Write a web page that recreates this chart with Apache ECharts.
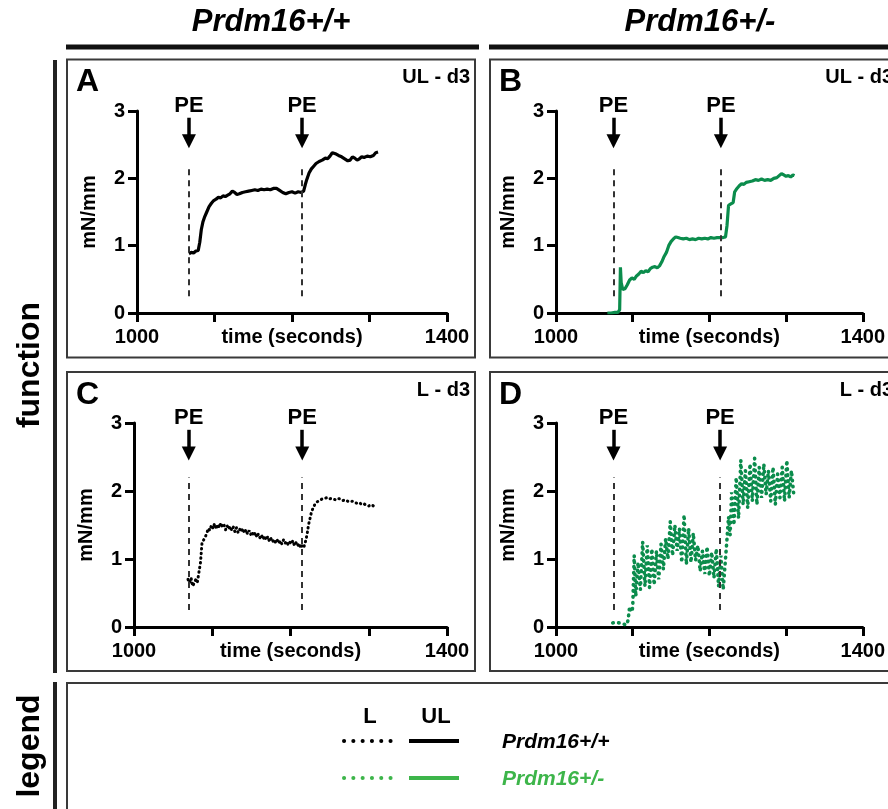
<!DOCTYPE html>
<html>
<head>
<meta charset="utf-8">
<script src="https://cdn.jsdelivr.net/npm/echarts@6/dist/echarts.min.js"></script>
<style>
html, body { margin: 0; padding: 0; background: #fff; }
#main { width: 888px; height: 809px; }
</style>
</head>
<body>
<div id="main"></div>
<script>
var FONT = '"Liberation Sans", Arial, Helvetica, sans-serif';
var GREEN = '#0b8c4c';
var LEGEND_GREEN = '#3db54a';

// tick labels shown on x axis
var xTickLabels = [1000, 1400];

// PE addition times (s) per panel
var peA = [1067, 1213];
var peB = [1075, 1215];
var peC = [1070, 1215];
var peD = [1075, 1214];

// A: UL - d3, Prdm16+/+   [time, mN/mm]
var ulWildType = [
  [1067,0.88],[1070,0.90],[1073,0.89],[1076,0.92],[1079,0.93],[1081,1.05],[1083,1.24],[1085,1.35],
  [1087,1.42],[1090,1.50],[1093,1.58],[1096,1.63],[1099,1.67],[1102,1.69],[1105,1.72],[1108,1.71],
  [1111,1.74],[1114,1.73],[1117,1.75],[1120,1.77],[1123,1.81],[1126,1.79],[1129,1.76],[1132,1.77],
  [1136,1.79],[1140,1.80],[1144,1.81],[1148,1.82],[1152,1.83],[1156,1.82],[1160,1.84],[1164,1.83],
  [1168,1.84],[1172,1.83],[1176,1.85],[1180,1.85],[1184,1.82],[1188,1.79],[1192,1.77],[1196,1.79],
  [1200,1.80],[1204,1.78],[1208,1.80],[1212,1.79],[1215,1.81],[1217,1.90],[1219,1.98],[1222,2.08],
  [1225,2.14],[1228,2.18],[1231,2.22],[1235,2.25],[1239,2.27],[1243,2.30],[1246,2.29],[1249,2.33],
  [1252,2.38],[1254,2.40],[1257,2.36],[1260,2.34],[1264,2.32],[1268,2.29],[1272,2.26],[1275,2.27],
  [1278,2.32],[1281,2.30],[1284,2.27],[1287,2.29],[1290,2.32],[1293,2.31],[1297,2.33],[1301,2.32],
  [1305,2.34],[1308,2.38],[1311,2.39]
];

// B: UL - d3, Prdm16+/-
var ulHet = [
  [1067,0.00],[1072,0.00],[1077,0.01],[1081,0.01],[1083,0.05],[1084,0.68],[1085,0.45],[1087,0.35],
  [1090,0.36],[1093,0.42],[1096,0.49],[1099,0.52],[1102,0.50],[1105,0.55],[1108,0.58],[1111,0.62],
  [1114,0.60],[1117,0.63],[1120,0.61],[1123,0.66],[1126,0.68],[1129,0.69],[1132,0.67],[1135,0.70],
  [1138,0.76],[1141,0.84],[1144,0.90],[1147,1.00],[1150,1.06],[1153,1.10],[1156,1.13],[1159,1.12],
  [1162,1.11],[1166,1.10],[1170,1.11],[1174,1.09],[1178,1.10],[1182,1.09],[1186,1.11],[1190,1.10],
  [1194,1.11],[1198,1.10],[1202,1.12],[1206,1.11],[1210,1.12],[1214,1.12],[1218,1.12],[1221,1.13],
  [1223,1.30],[1225,1.60],[1228,1.62],[1231,1.64],[1233,1.80],[1236,1.85],[1239,1.89],[1242,1.92],
  [1245,1.91],[1248,1.94],[1252,1.95],[1256,1.96],[1260,1.98],[1264,1.97],[1268,1.99],[1272,1.97],
  [1276,1.98],[1280,1.97],[1284,2.00],[1288,2.01],[1291,2.04],[1294,2.07],[1297,2.05],[1300,2.03],
  [1303,2.04],[1306,2.02],[1309,2.05],[1311,2.04]
];

// C: L - d3, Prdm16+/+
var lWildType = [
  [1069,0.70],[1071,0.65],[1073,0.72],[1075,0.60],[1077,0.62],[1079,0.70],[1081,0.66],[1083,0.68],
  [1085,0.95],[1087,1.25],[1089,1.28],[1091,1.32],[1093,1.38],[1095,1.45],[1097,1.42],[1099,1.50],
  [1101,1.45],[1103,1.52],[1105,1.44],[1107,1.51],[1109,1.46],[1111,1.53],[1113,1.47],[1115,1.50],
  [1117,1.43],[1119,1.49],[1121,1.44],[1123,1.48],[1125,1.42],[1127,1.47],[1129,1.40],[1131,1.46],
  [1133,1.39],[1135,1.44],[1137,1.40],[1139,1.45],[1141,1.38],[1143,1.43],[1145,1.37],[1147,1.42],
  [1149,1.36],[1151,1.40],[1153,1.34],[1155,1.39],[1157,1.32],[1159,1.37],[1161,1.31],[1163,1.35],
  [1165,1.29],[1167,1.34],[1169,1.28],[1171,1.33],[1173,1.26],[1175,1.30],[1177,1.25],[1179,1.29],
  [1181,1.24],[1183,1.28],[1185,1.23],[1187,1.27],[1189,1.22],[1191,1.28],[1193,1.23],[1195,1.26],
  [1197,1.21],[1199,1.25],[1201,1.22],[1203,1.27],[1205,1.20],[1207,1.24],[1209,1.19],[1211,1.23],
  [1213,1.16],[1215,1.20],[1217,1.17],[1219,1.25],[1221,1.35],[1223,1.50],[1225,1.60],[1227,1.70],
  [1229,1.75],[1231,1.80],[1234,1.84],[1237,1.86],[1240,1.88],[1243,1.89],[1246,1.90],[1249,1.88],
  [1252,1.89],[1255,1.88],[1258,1.87],[1261,1.89],[1264,1.88],[1267,1.86],[1270,1.87],[1273,1.85],
  [1276,1.84],[1279,1.85],[1282,1.83],[1285,1.82],[1288,1.83],[1291,1.80],[1294,1.81],[1297,1.79],
  [1300,1.78],[1303,1.80],[1306,1.78],[1309,1.79]
];

// D: L - d3, Prdm16+/-
var lHet = [
  [1074,0.06],[1078,0.07],[1082,0.06],[1086,0.06],[1089,0.04],[1092,0.03],[1094,0.10],[1096,0.30],
  [1098,0.22],[1100,0.28],[1102,1.05],[1104,0.45],[1107,0.95],[1110,0.55],[1113,1.25],[1116,0.60],
  [1119,1.20],[1122,0.58],[1125,1.15],[1128,0.62],[1131,1.12],[1134,0.70],[1137,1.22],[1140,0.85],
  [1143,1.30],[1146,1.00],[1149,1.55],[1152,1.05],[1155,1.50],[1158,1.12],[1161,1.45],[1164,0.95],
  [1167,1.65],[1170,0.92],[1173,1.45],[1176,0.95],[1179,1.38],[1182,0.98],[1185,1.20],[1188,0.82],
  [1191,1.12],[1194,0.78],[1197,1.18],[1200,0.75],[1203,1.10],[1206,0.72],[1209,1.15],[1212,0.60],
  [1215,1.05],[1218,0.55],[1221,1.00],[1223,1.30],[1225,1.62],[1227,1.35],[1229,1.98],[1232,1.50],
  [1235,2.20],[1238,1.60],[1241,2.45],[1244,1.80],[1247,2.30],[1250,1.75],[1253,2.40],[1256,1.85],
  [1259,2.48],[1262,1.80],[1265,2.35],[1268,1.90],[1271,2.40],[1274,1.95],[1277,2.30],[1280,1.85],
  [1283,2.35],[1286,1.80],[1289,2.25],[1292,1.90],[1295,2.35],[1298,1.85],[1301,2.45],[1304,1.90],
  [1307,2.30],[1310,1.95]
];

var panels = [
  { letter: 'A', tag: 'UL - d3', data: ulWildType, pe: peA, color: '#000', dotted: false,
    grid: { left: 137, top: 111, width: 310, height: 202 }, box: [67, 59.5, 408, 298] },
  { letter: 'B', tag: 'UL - d3', data: ulHet, pe: peB, color: GREEN, dotted: false,
    grid: { left: 556, top: 111, width: 312, height: 202 }, box: [490, 59.5, 420, 298] },
  { letter: 'C', tag: 'L - d3', data: lWildType, pe: peC, color: '#000', dotted: true,
    grid: { left: 134, top: 423, width: 313, height: 204 }, box: [67, 372, 408, 299] },
  { letter: 'D', tag: 'L - d3', data: lHet, pe: peD, color: GREEN, dotted: true,
    grid: { left: 556, top: 423, width: 313, height: 204 }, box: [490, 372, 420, 299] }
];

var bold = { fontFamily: FONT, fontWeight: 'bold', color: '#000' };

var grids = [], xAxes = [], yAxes = [], series = [], graphics = [];

panels.forEach(function (p, i) {
  grids.push(p.grid);
  xAxes.push({
    gridIndex: i, type: 'value', min: 1000, max: 1400, interval: 100,
    axisLine: { lineStyle: { color: '#000', width: 3 } },
    axisTick: { length: 9, lineStyle: { color: '#000', width: 3 } },
    splitLine: { show: false },
    axisLabel: Object.assign({ fontSize: 20, margin: 14, formatter: function (v) {
      return xTickLabels.indexOf(v) >= 0 ? String(v) : '';
    } }, bold),
    name: 'time (seconds)', nameLocation: 'middle', nameGap: 14, nameMoveOverlap: false,
    nameTextStyle: Object.assign({ fontSize: 20, verticalAlign: 'top' }, bold)
  });
  yAxes.push({
    gridIndex: i, type: 'value', min: 0, max: 3, interval: 1,
    axisLine: { show: true, lineStyle: { color: '#000', width: 3 } },
    axisTick: { show: true, length: 9, lineStyle: { color: '#000', width: 3 } },
    splitLine: { show: false },
    axisLabel: Object.assign({ fontSize: 20, margin: 12 }, bold),
    name: 'mN/mm', nameLocation: 'middle', nameGap: 38, nameMoveOverlap: false,
    nameTextStyle: Object.assign({ fontSize: 20 }, bold)
  });

  var marks = [];
  p.pe.forEach(function (t) {
    marks.push([
      { coord: [t, 0.25], symbol: 'none', lineStyle: { color: '#333', width: 2, type: [6, 5] }, label: { show: false } },
      { coord: [t, 2.2], symbol: 'none' }
    ]);
    marks.push([
      { coord: [t, 2.9], symbol: 'none', lineStyle: { color: '#000', width: 3.5, type: 'solid' },
        label: Object.assign({ show: true, position: 'start', formatter: 'PE', fontSize: 22, distance: 1 }, bold) },
      { coord: [t, 2.55], symbol: 'triangle', symbolSize: [14, 14] }
    ]);
  });

  var black = p.color === '#000';
  series.push({
    type: 'line', xAxisIndex: i, yAxisIndex: i, data: p.data,
    showSymbol: false, animation: false, silent: true,
    lineStyle: p.dotted
      ? { color: p.color, width: black ? 3 : 3.6, type: black ? [0.5, 4.2] : [0.5, 5.5], cap: 'round' }
      : { color: p.color, width: 3.2 },
    markLine: { silent: true, animation: false, symbol: 'none', data: marks }
  });

  graphics.push({ type: 'rect', z: -1, shape: { x: p.box[0], y: p.box[1], width: p.box[2], height: p.box[3] },
    style: { fill: 'none', stroke: '#3a3a3a', lineWidth: 2 } });
  graphics.push({ type: 'text', x: p.box[0] + 9, y: p.box[1] + 23,
    style: { text: p.letter, font: 'bold 32px ' + FONT, fill: '#000', align: 'left', verticalAlign: 'middle', textAlign: 'left', textVerticalAlign: 'middle' } });
  graphics.push({ type: 'text', x: p.box[0] + 403, y: p.box[1] + 18,
    style: { text: p.tag, font: 'bold 20px ' + FONT, fill: '#000', align: 'right', verticalAlign: 'middle', textAlign: 'right', textVerticalAlign: 'middle' } });
});

function txt(s, x, y, font, fill, align, rot) {
  return { type: 'text', x: x, y: y, rotation: rot || 0,
    style: { text: s, font: font, fill: fill || '#000', align: align || 'center', verticalAlign: 'middle',
      textAlign: align || 'center', textVerticalAlign: 'middle' } };
}
function seg(x1, y1, x2, y2, color, w, dash) {
  return { type: 'line', shape: { x1: x1, y1: y1, x2: x2, y2: y2 },
    style: { stroke: color, lineWidth: w, lineDash: dash || null, lineCap: dash ? 'round' : 'butt' } };
}

// column headers
graphics.push(txt('Prdm16+/+', 271, 22, 'italic bold 31px ' + FONT));
graphics.push(txt('Prdm16+/-', 700, 22, 'italic bold 31px ' + FONT));
graphics.push(seg(66, 47, 479, 47, '#111', 5));
graphics.push(seg(489, 47, 888, 47, '#111', 5));

// row labels
graphics.push(seg(55, 60, 55, 673, '#222', 4));
graphics.push(seg(55, 682, 55, 809, '#222', 4));
graphics.push(txt('function', 30, 365, 'bold 32px ' + FONT, '#000', 'center', Math.PI / 2));
graphics.push(txt('legend', 30, 746, 'bold 32px ' + FONT, '#000', 'center', Math.PI / 2));

// legend box
graphics.push({ type: 'rect', z: -1, shape: { x: 67, y: 683, width: 840, height: 140 },
  style: { fill: 'none', stroke: '#3a3a3a', lineWidth: 2 } });
graphics.push(txt('L', 370, 717, 'bold 22px ' + FONT));
graphics.push(txt('UL', 436, 717, 'bold 22px ' + FONT));
graphics.push(seg(344, 741, 391, 741, '#000', 4, [0.1, 9.2]));
graphics.push(seg(409, 741, 459, 741, '#000', 4));
graphics.push(seg(344, 778, 391, 778, LEGEND_GREEN, 4, [0.1, 9.2]));
graphics.push(seg(409, 778, 459, 778, LEGEND_GREEN, 4));
graphics.push(txt('Prdm16+/+', 502, 742, 'italic bold 21px ' + FONT, '#000', 'left'));
graphics.push(txt('Prdm16+/-', 502, 779, 'italic bold 21px ' + FONT, LEGEND_GREEN, 'left'));

var chart = echarts.init(document.getElementById('main'));
chart.setOption({
  animation: false,
  backgroundColor: '#fff',
  grid: grids,
  xAxis: xAxes,
  yAxis: yAxes,
  series: series,
  graphic: { elements: graphics }
});
</script>
</body>
</html>
